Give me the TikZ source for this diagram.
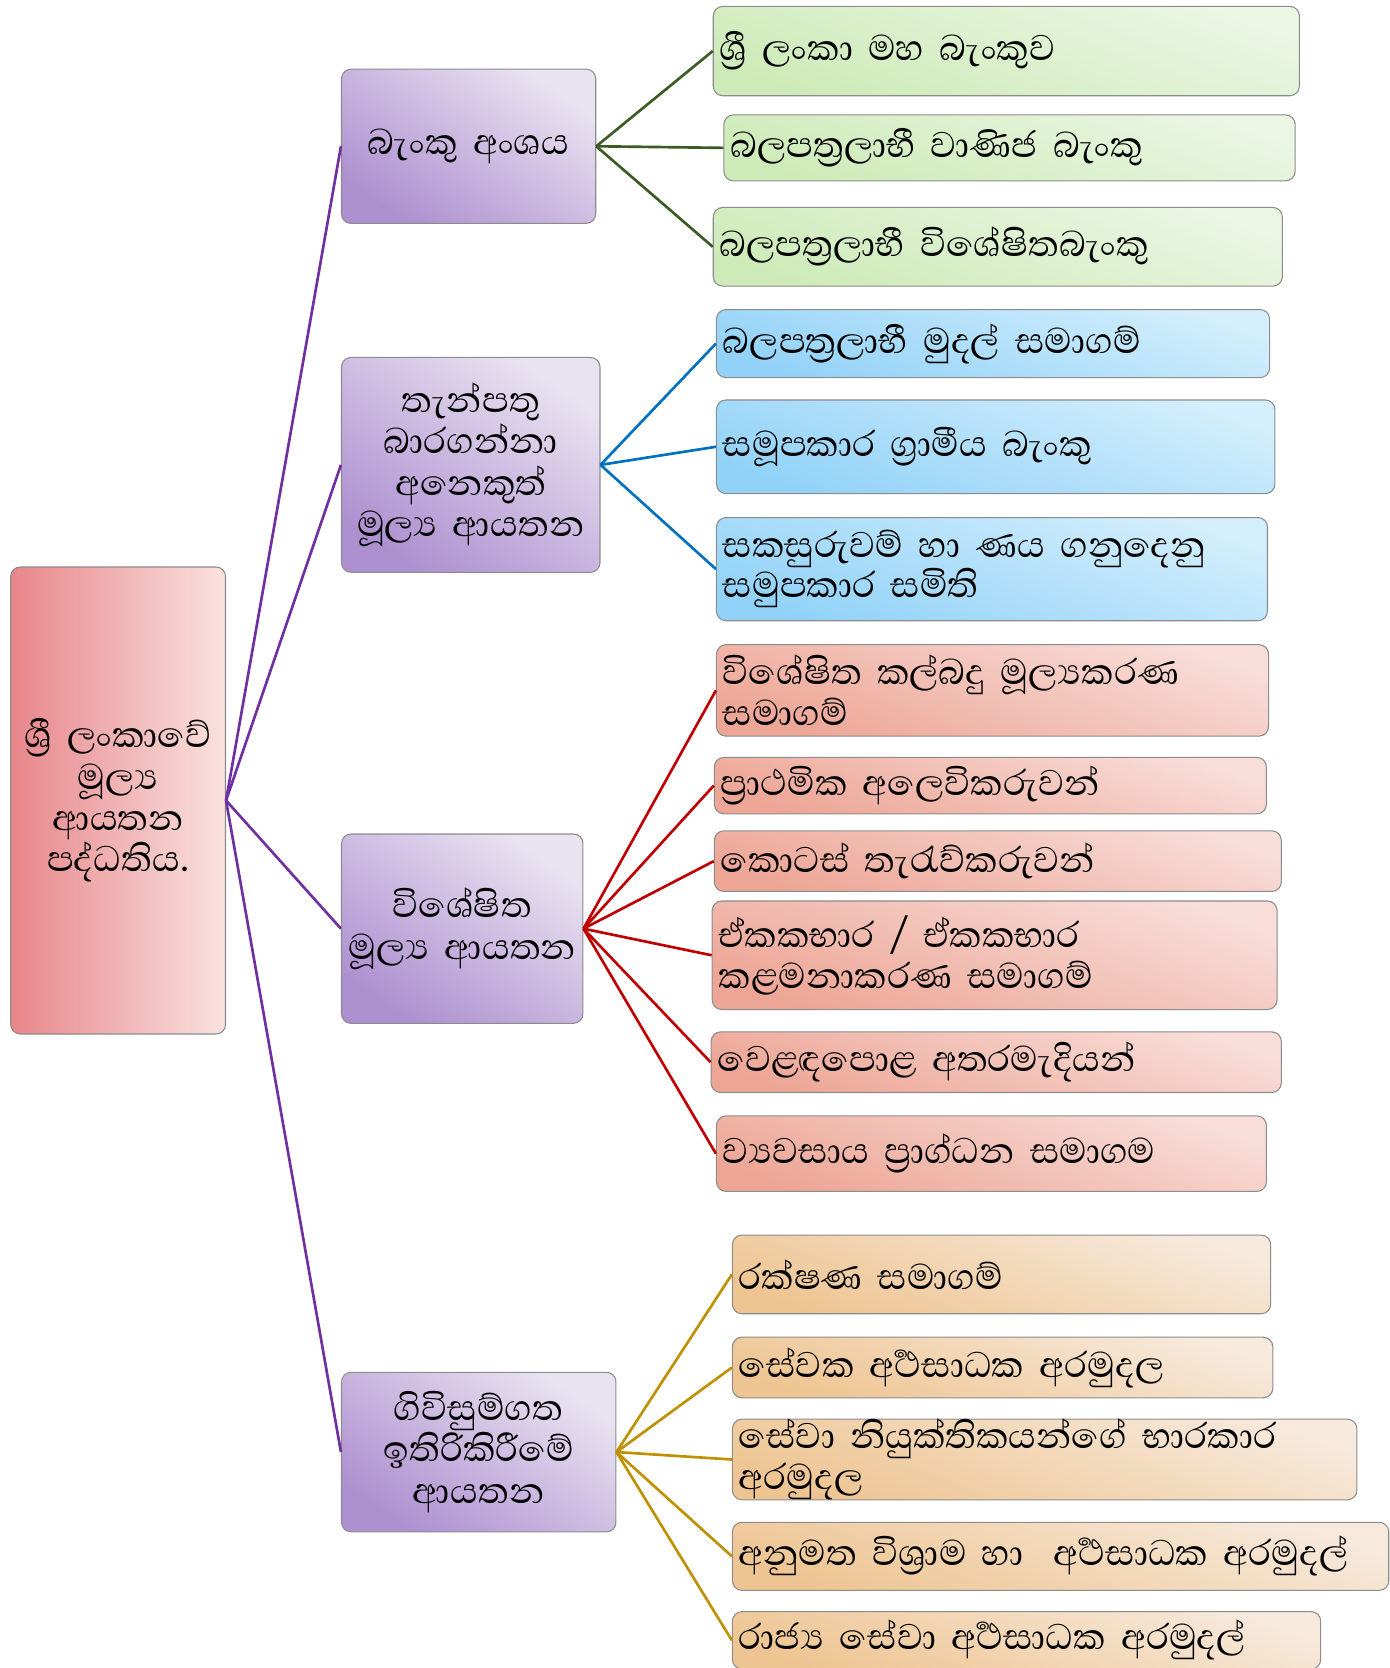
\documentclass[tikz,border=0pt]{standalone}
\usepackage{fontspec}
\newfontfamily\sinhalafont[Script=Sinhala]{Abhaya Libre}
\usetikzlibrary{positioning}

\definecolor{boxline}{HTML}{8C8C8C}
\definecolor{rootL}{HTML}{E8868A}
\definecolor{rootR}{HTML}{F9E2E0}
\definecolor{grpL}{HTML}{E9E3F1}
\definecolor{grpD}{HTML}{AE90D0}
\definecolor{greenL}{HTML}{EBF6E3}
\definecolor{greenD}{HTML}{CDEBB8}
\definecolor{blueL}{HTML}{D3EEFC}
\definecolor{blueD}{HTML}{92D2F8}
\definecolor{redL}{HTML}{F8DDD8}
\definecolor{redD}{HTML}{EDA696}
\definecolor{tanL}{HTML}{F7E9DC}
\definecolor{tanD}{HTML}{EEC592}
\definecolor{purpleline}{HTML}{7030A0}
\definecolor{greenline}{HTML}{3B5A24}
\definecolor{blueline}{HTML}{0070C0}
\definecolor{redline}{HTML}{C00000}
\definecolor{goldline}{HTML}{BF9000}

\begin{document}
\begin{tikzpicture}[x=1pt, y=-1pt,
    box/.style={draw=boxline, line width=1pt, rounded corners=9pt, inner xsep=6pt, inner ysep=0pt,
                font=\sinhalafont\fontsize{43}{38}\selectfont},
    sized/.style 2 args={text width=#1-12, minimum height=#2},
    root/.style={box, left color=rootL, right color=rootR, align=center,
                 font=\sinhalafont\fontsize{43}{39}\selectfont},
    group/.style={box, top color=grpL, bottom color=grpD, shading angle=-35, align=center,
                  font=\sinhalafont\fontsize{43}{39}\selectfont},
    leaf/.style={box, anchor=west, align=left},
    greenleaf/.style={leaf, top color=greenL, bottom color=greenD, shading angle=-20},
    blueleaf/.style={leaf, top color=blueL, bottom color=blueD, shading angle=-20},
    redleaf/.style={leaf, top color=redL, bottom color=redD, shading angle=-20},
    tanleaf/.style={leaf, top color=tanL, bottom color=tanD, shading angle=-20},
    link/.style={line width=2.5pt}]
    \useasboundingbox (0,0) rectangle (1306,1568);

    % Root
    \node[root, sized={202}{439}] (fin) at (111,752.5)
        {ශ්^^^^200dරී ලංකාවේ\\ මූල්^^^^200dය\\ ආයතන\\ පද්ධතිය.};

    % Sector boxes
    \node[group, sized={239}{145}] (bank) at (440.5,137.5) {බැංකු අංශය};
    \node[group, sized={243}{202}] (deposit) at (442.5,437)
        {තැන්පතු\\ බාරගන්නා\\ අනෙකුත්\\ මූල්^^^^200dය ආයතන};
    \node[group, sized={227}{178}] (special) at (434.5,873)
        {විශේෂිත\\ මූල්^^^^200dය ආයතන};
    \node[group, sized={258}{150}] (contract) at (450,1365)
        {ගිවිසුම්ගත\\ ඉතිරිකිරීමේ\\ ආයතන};

    % Banking sector
    \node[greenleaf, sized={551}{84}] (g1) at (670,48) {ශ්^^^^200dරී ලංකා මහ බැංකුව};
    \node[greenleaf, sized={537}{62}] (g2) at (680,139) {බලපත්^^^^200dරලාභී වාණිජ බැංකු};
    \node[greenleaf, sized={535}{74}] (g3) at (670,232) {බලපත්^^^^200dරලාභී විශේෂිතබැංකු};

    % Deposit taking institutions
    \node[blueleaf, sized={520}{64}] (b1) at (673,323) {බලපත්^^^^200dරලාභී මුදල් සමාගම්};
    \node[blueleaf, sized={525}{88}] (b2) at (673,420) {සමූපකාර ග්^^^^200dරාමීය බැංකු};
    \node[blueleaf, sized={518}{97}] (b3) at (673,535) {සකසුරුවම් හා ණය ගනුදෙනු\\ සමුපකාර සමිති};

    % Specialised institutions
    \node[redleaf, sized={519}{86}] (r1) at (673,649) {විශේෂිත කල්බදු මූල්^^^^200dයකරණ\\ සමාගම්};
    \node[redleaf, sized={519}{53}] (r2) at (671,738.5) {ප්^^^^200dරාථමික අලෙවිකරුවන්};
    \node[redleaf, sized={533}{57}] (r3) at (671,809.5) {කොටස් තැරැව්කරුවන්};
    \node[redleaf, sized={531}{102}] (r4) at (669,898) {ඒකකභාර / ඒකකභාර\\ කළමනාකරණ සමාගම්};
    \node[redleaf, sized={536}{57}] (r5) at (668,998.5) {වෙළඳපොළ අතරමැදියන්};
    \node[redleaf, sized={517}{71}] (r6) at (673,1084.5) {ව්^^^^200dයවසාය ප්^^^^200dරාග්ධන සමාගම};

    % Contractual savings institutions
    \node[tanleaf, sized={506}{74}] (t1) at (688,1198) {රක්ෂණ සමාගම්};
    \node[tanleaf, sized={508}{57}] (t2) at (688,1285.5) {සේවක අර්^^^^200dථසාධක අරමුදල};
    \node[tanleaf, sized={587}{74}] (t3) at (688,1372) {සේවා නියුක්තිකයන්ගේ භාරකාර\\ අරමුදල};
    \node[tanleaf, sized={617}{64}] (t4) at (688,1463) {අනුමත විශ්^^^^200dරාම හා ~අර්^^^^200dථසාධක අරමුදල්};
    \node[tanleaf, sized={553}{54}] (t5) at (688,1542) {රාජ්^^^^200dය සේවා අර්^^^^200dථසාධක අරමුදල්};

    % Connectors
    \foreach \n in {bank,deposit,special,contract}
        \draw[link, purpleline] (fin.east) -- (\n.west);
    \foreach \n in {g1,g2,g3}
        \draw[link, greenline] (bank.east) -- (\n.west);
    \foreach \n in {b1,b2,b3}
        \draw[link, blueline] (deposit.east) -- (\n.west);
    \foreach \n in {r1,r2,r3,r4,r5,r6}
        \draw[link, redline] (special.east) -- (\n.west);
    \foreach \n in {t1,t2,t3,t4,t5}
        \draw[link, goldline] (contract.east) -- (\n.west);
\end{tikzpicture}
\end{document}
